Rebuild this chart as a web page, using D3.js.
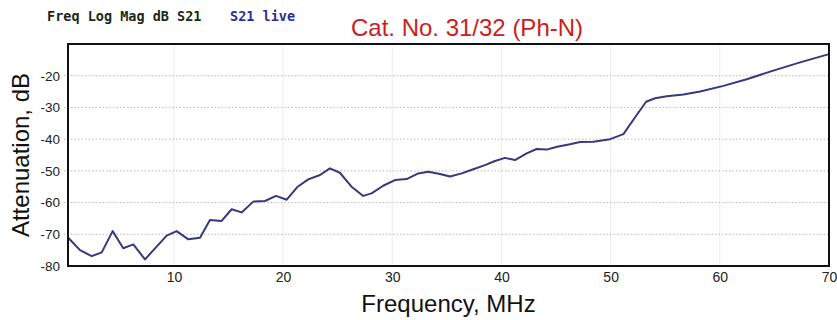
<!DOCTYPE html>
<html>
<head>
<meta charset="utf-8">
<script src="https://cdn.jsdelivr.net/npm/d3@7/dist/d3.min.js"></script>
<style>
  html, body { margin: 0; padding: 0; background: #fff; }
  svg { display: block; }
</style>
</head>
<body>
<svg id="chart" width="837" height="320"></svg>
<script>
// S21 sweep: frequency (MHz) and measured attenuation (dB)
const freqMHz = [0.3, 1.4, 2.47, 3.39, 4.39, 5.36, 6.28, 7.35, 8.42, 9.34,
  10.25, 11.32, 12.39, 13.3, 14.37, 15.29, 16.2, 17.27, 18.34, 19.35,
  20.33, 21.3, 22.3, 23.38, 24.29, 25.2, 26.27, 27.34, 28.1, 29.17,
  30.24, 31.31, 32.38, 33.3, 34.37, 35.29, 36.36, 37.42, 38.49, 39.41,
  40.32, 41.24, 42.31, 43.22, 44.14, 45.1, 46.28, 47.2, 48.42, 49.95,
  51.17, 52.24, 53.25, 54.07, 55.14, 56.67, 58.2, 60.33, 62.47, 64.9,
  67.35, 70.0];
const s21dB = [-71.0, -75.0, -76.9, -75.7, -69.0, -74.4, -73.2, -77.9, -73.9, -70.4,
  -69.0, -71.6, -71.1, -65.5, -65.8, -62.1, -63.1, -59.7, -59.5, -57.9,
  -59.1, -55.1, -52.7, -51.3, -49.2, -50.6, -55.0, -57.9, -57.1, -54.7,
  -52.9, -52.6, -50.8, -50.3, -51.0, -51.8, -50.8, -49.5, -48.2, -46.9,
  -45.9, -46.6, -44.5, -43.1, -43.3, -42.4, -41.6, -40.9, -40.8, -40.0,
  -38.4, -33.1, -28.2, -27.1, -26.5, -25.9, -25.0, -23.2, -21.1, -18.4,
  -15.8, -13.2];

const xTicks = [10, 20, 30, 40, 50, 60, 70];
const yTicks = [-80, -70, -60, -50, -40, -30, -20];

const titleText = "Cat. No. 31/32 (Ph-N)";
const traceFormat = "Freq Log Mag dB S21";
const traceName = "S21 live";
const xTitle = "Frequency, MHz";
const yTitle = "Attenuation, dB";

const svg = d3.select("#chart");
const plot = { left: 68, right: 829, top: 44, bottom: 266 };

const x = d3.scaleLinear().domain([0.3, 70]).range([plot.left, plot.right]);
const y = d3.scaleLinear().domain([-80, -10]).range([plot.bottom, plot.top]);

// grid
const grid = svg.append("g");
grid.selectAll("line.v").data(xTicks.slice(0, -1)).join("line")
  .attr("class", "v")
  .attr("x1", d => x(d)).attr("x2", d => x(d))
  .attr("y1", plot.top).attr("y2", plot.bottom)
  .attr("stroke", "#ececf2").attr("stroke-width", 1);
grid.selectAll("line.h").data(yTicks.slice(1)).join("line")
  .attr("class", "h")
  .attr("x1", plot.left - 4).attr("x2", plot.right)
  .attr("y1", d => y(d)).attr("y2", d => y(d))
  .attr("stroke", "#b8b8b8").attr("stroke-width", 1)
  .attr("stroke-dasharray", "1.5,2");

// axes (labels only, no tick marks)
const xAxis = d3.axisBottom(x).tickValues(xTicks).tickSize(0).tickPadding(6)
  .tickFormat(d3.format("d"));
const gx = svg.append("g").attr("transform", `translate(0,${plot.bottom})`).call(xAxis);
gx.select(".domain").remove();
gx.selectAll("text").attr("font-family", "Liberation Sans, Arial, sans-serif")
  .attr("font-size", 14).attr("fill", "#222");

const yAxis = d3.axisLeft(y).tickValues(yTicks).tickSize(0).tickPadding(8)
  .tickFormat(d => d3.format("d")(d).replace("\u2212", "-"));
const gy = svg.append("g").attr("transform", `translate(${plot.left},0)`).call(yAxis);
gy.select(".domain").remove();
gy.selectAll("text").attr("font-family", "Liberation Sans, Arial, sans-serif")
  .attr("font-size", 13.5).attr("fill", "#222");

// trace
const line = d3.line().x((d, i) => x(freqMHz[i])).y(d => y(d));
svg.append("path")
  .datum(s21dB)
  .attr("d", line)
  .attr("fill", "none")
  .attr("stroke", "#38387e")
  .attr("stroke-width", 2)
  .attr("stroke-linejoin", "round");

// frame
svg.append("rect")
  .attr("x", plot.left).attr("y", plot.top)
  .attr("width", plot.right - plot.left).attr("height", plot.bottom - plot.top)
  .attr("fill", "none").attr("stroke", "#111").attr("stroke-width", 2);

// titles
svg.append("text")
  .attr("x", 467).attr("y", 36)
  .attr("text-anchor", "middle")
  .attr("font-family", "Liberation Sans, Arial, sans-serif")
  .attr("font-size", 24).attr("fill", "#cc2020")
  .text(titleText);

svg.append("text")
  .attr("x", 47).attr("y", 21)
  .attr("font-family", "DejaVu Sans Mono, monospace")
  .attr("font-weight", "bold")
  .attr("font-size", 13.5).attr("fill", "#1c2a14")
  .text(traceFormat);

svg.append("text")
  .attr("x", 230).attr("y", 21)
  .attr("font-family", "DejaVu Sans Mono, monospace")
  .attr("font-weight", "bold")
  .attr("font-size", 13.5).attr("fill", "#2c2c96")
  .text(traceName);

svg.append("text")
  .attr("x", (plot.left + plot.right) / 2).attr("y", 312)
  .attr("text-anchor", "middle")
  .attr("font-family", "Liberation Sans, Arial, sans-serif")
  .attr("font-size", 24).attr("fill", "#111")
  .text(xTitle);

svg.append("text")
  .attr("transform", `translate(29,${(plot.top + plot.bottom) / 2}) rotate(-90)`)
  .attr("text-anchor", "middle")
  .attr("font-family", "Liberation Sans, Arial, sans-serif")
  .attr("font-size", 24).attr("fill", "#111")
  .text(yTitle);
</script>
</body>
</html>
